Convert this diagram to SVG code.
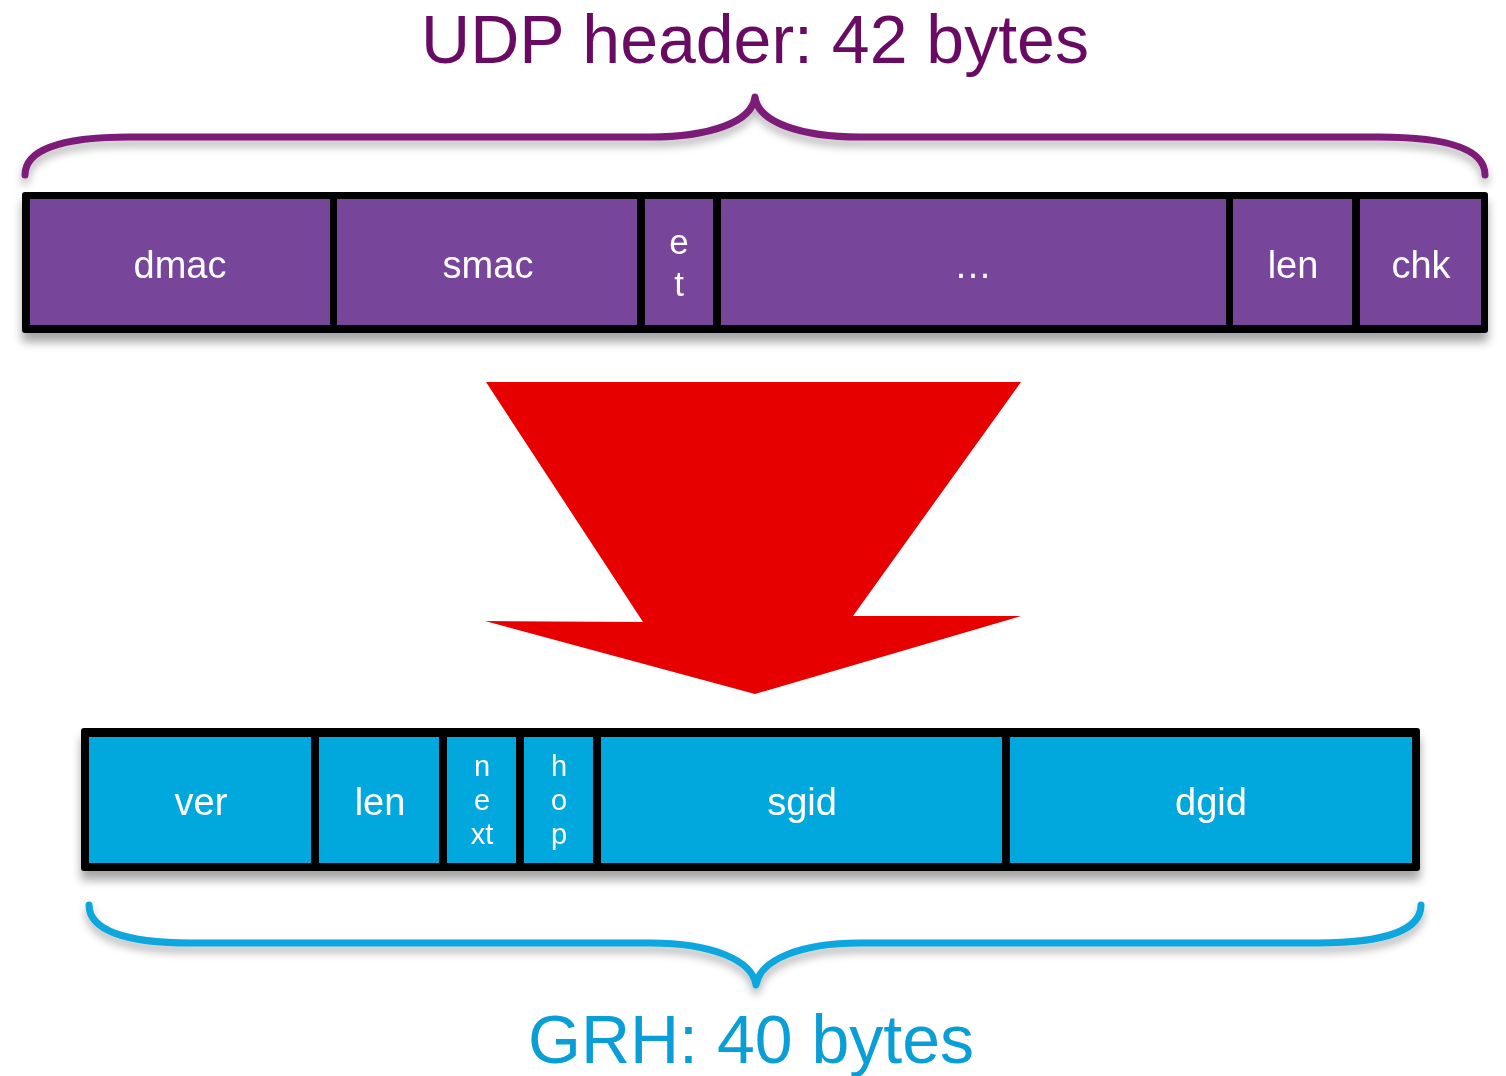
<svg xmlns="http://www.w3.org/2000/svg" width="1506" height="1076" viewBox="0 0 1506 1076">
  <defs>
    <filter id="shadow" x="-5%" y="-20%" width="110%" height="160%">
      <feDropShadow dx="0" dy="9" stdDeviation="5" flood-color="#000" flood-opacity="0.35"/>
    </filter>
    <filter id="braceShadow" x="-5%" y="-30%" width="110%" height="180%">
      <feDropShadow dx="0" dy="6" stdDeviation="4" flood-color="#000" flood-opacity="0.3"/>
    </filter>
  </defs>
  <style>
    text { font-family: "Liberation Sans", Arial, Helvetica, sans-serif; }
    .title { font-size: 68px; text-anchor: middle; }
    .udp { fill: #690a63; }
    .grh { fill: #0a9ed7; }
    .frame { fill: #000; }
    .pcell { fill: #774499; }
    .bcell { fill: #01a8de; }
    .lbl { fill: #fff; font-size: 38px; text-anchor: middle; }
    .lblm { fill: #fff; font-size: 35px; text-anchor: middle; }
    .lbls { fill: #fff; font-size: 29px; text-anchor: middle; }
    .brace { fill: none; stroke-width: 7; stroke-linecap: round; stroke-linejoin: round; }
  </style>

  <!-- captions -->
  <text id="title-udp" class="title udp" x="755" y="63">UDP header: 42 bytes</text>
  <text id="title-grh" class="title grh" x="751" y="1063">GRH: 40 bytes</text>

  <!-- braces -->
  <g id="braces">
    <path id="brace-udp" class="brace" stroke="#7c1b78" filter="url(#braceShadow)"
          d="M25,175 C25,150 60,137 130,137 L650,137 C710,137 752,122 755,97 C758,122 800,137 860,137 L1378,137 C1450,137 1485,150 1485,175"/>
    <path id="brace-grh" class="brace" stroke="#0aa6dd" filter="url(#braceShadow)"
          d="M89,905 C89,930 125,943 190,943 L650,943 C712,943 752,960 756,985 C760,960 800,943 860,943 L1318,943 C1385,943 1421,930 1421,905"/>
  </g>

  <!-- UDP header bar -->
  <g id="udp-bar" filter="url(#shadow)">
    <rect class="frame" x="22" y="192" width="1466" height="141" rx="3"/>
    <g id="f-dmac">
      <rect class="pcell" x="30" y="199" width="300" height="126"/>
      <text class="lbl" x="180" y="278">dmac</text>
    </g>
    <g id="f-smac">
      <rect class="pcell" x="337" y="199" width="300" height="126"/>
      <text class="lbl" x="488" y="278">smac</text>
    </g>
    <g id="f-et">
      <rect class="pcell" x="645" y="199" width="68" height="126"/>
      <text class="lblm" x="679" y="254">e</text>
      <text class="lblm" x="679" y="296">t</text>
    </g>
    <g id="f-more">
      <rect class="pcell" x="721" y="199" width="505" height="126"/>
      <text class="lbl" x="973" y="278">…</text>
    </g>
    <g id="f-len">
      <rect class="pcell" x="1233" y="199" width="119" height="126"/>
      <text class="lbl" x="1293" y="278">len</text>
    </g>
    <g id="f-chk">
      <rect class="pcell" x="1360" y="199" width="121" height="126"/>
      <text class="lbl" x="1421" y="278">chk</text>
    </g>
  </g>

  <!-- conversion arrow -->
  <g id="connectors">
    <polygon id="arrow-down" fill="#e60000"
             points="486,382 1021,382 853,616 1021,616 755,694 485,621 643,622"/>
  </g>

  <!-- GRH bar -->
  <g id="grh-bar" filter="url(#shadow)">
    <rect class="frame" x="81" y="728" width="1339" height="143" rx="3"/>
    <g id="g-ver">
      <rect class="bcell" x="89" y="737" width="222" height="126"/>
      <text class="lbl" x="201" y="815">ver</text>
    </g>
    <g id="g-len">
      <rect class="bcell" x="319" y="737" width="120" height="126"/>
      <text class="lbl" x="380" y="815">len</text>
    </g>
    <g id="g-next">
      <rect class="bcell" x="447" y="737" width="69" height="126"/>
      <text class="lbls" x="482" y="776">n</text>
      <text class="lbls" x="482" y="810">e</text>
      <text class="lbls" x="482" y="844">xt</text>
    </g>
    <g id="g-hop">
      <rect class="bcell" x="524" y="737" width="69" height="126"/>
      <text class="lbls" x="559" y="776">h</text>
      <text class="lbls" x="559" y="810">o</text>
      <text class="lbls" x="559" y="844">p</text>
    </g>
    <g id="g-sgid">
      <rect class="bcell" x="601" y="737" width="401" height="126"/>
      <text class="lbl" x="802" y="815">sgid</text>
    </g>
    <g id="g-dgid">
      <rect class="bcell" x="1010" y="737" width="402" height="126"/>
      <text class="lbl" x="1211" y="815">dgid</text>
    </g>
  </g>
</svg>
